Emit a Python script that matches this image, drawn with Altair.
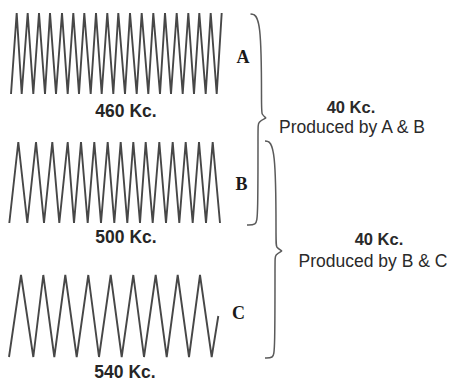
import altair as alt
import pandas as pd

# ---- waveform vertices (pixel-space values) ----
# Wave A (460 Kc.)
a_crest_x = [16.7, 27.7, 39, 50, 62, 73.3, 84.3, 96, 107.3, 118.3, 130, 141.7,
             153.3, 165, 176.7, 188.3, 199.3, 210.7, 221.7]
a_trough_x = [11, 21.7, 33.3, 45, 56, 67.7, 79, 90.7, 101.7, 113.3, 125, 136.7,
              148.3, 160, 171, 182.7, 194, 205.7, 216.7]
a_top, a_bottom = 13, 94

# Wave B (500 Kc.)
b_crest_x = [18.3, 36, 52.3, 67.7, 81, 94.3, 107.7, 120.7, 133.3, 145.7, 159.3,
             172.7, 185.7, 199, 212.7]
b_trough_x = [9.3, 27.3, 44, 59.3, 74, 87.7, 101, 114.3, 127.3, 140, 152.7, 166,
              179.3, 192.7, 206, 220]
b_top, b_bottom = 142, 223

# Wave C (540 Kc.)
c_crest_x = [21, 43.3, 65.3, 88.3, 110.7, 133.3, 155.7, 177.7, 200]
c_trough_x = [9, 33.3, 54.3, 76.7, 99, 121.7, 144, 166.7, 189, 211.7]
c_top, c_bottom = 275, 357
c_end = (218.3, 316)

# ---- braces (control points) ----
brace1_x = [250.5, 261.5, 261.5, 261.5, 266, 266, 258, 258, 258, 256, 247]
brace1_y = [14, 15, 110, 114, 118, 118, 122, 127, 218, 225, 225]
brace2_x = [265, 276, 276, 276, 282, 282, 275, 275, 275, 273, 265]
brace2_y = [141, 142, 244, 247, 251, 251, 255, 259, 352, 358, 358]

# ---- labels ----
freq_labels = ["460 Kc.", "500 Kc.", "540 Kc."]
freq_x = [126, 126, 125]
freq_y = [112, 238, 373]

letters = ["A", "B", "C"]
letter_x = [243, 241.5, 238.5]
letter_y = [58, 185, 314]

beat_top = ["40 Kc.", "40 Kc."]
beat_top_x = [351, 379]
beat_top_y = [107.5, 240]
beat_sub = ["Produced by A & B", "Produced by B & C"]
beat_sub_x = [352, 373]
beat_sub_y = [127.5, 261.5]


def wave_rows(name, crest, trough, top, bottom, end=None):
    pts = [(x, top) for x in crest] + [(x, bottom) for x in trough]
    if end is not None:
        pts.append(end)
    pts.sort(key=lambda p: p[0])
    return [{"wave": name, "x": x, "y": y, "o": i} for i, (x, y) in enumerate(pts)]


wave_df = pd.DataFrame(
    wave_rows("A", a_crest_x, a_trough_x, a_top, a_bottom)
    + wave_rows("B", b_crest_x, b_trough_x, b_top, b_bottom)
    + wave_rows("C", c_crest_x, c_trough_x, c_top, c_bottom, c_end)
)

brace_df = pd.DataFrame(
    [{"brace": "AB", "x": x, "y": y, "o": i} for i, (x, y) in enumerate(zip(brace1_x, brace1_y))]
    + [{"brace": "BC", "x": x, "y": y, "o": i} for i, (x, y) in enumerate(zip(brace2_x, brace2_y))]
)

freq_df = pd.DataFrame({"t": freq_labels, "x": freq_x, "y": freq_y})
letter_df = pd.DataFrame({"t": letters, "x": letter_x, "y": letter_y})
beat_top_df = pd.DataFrame({"t": beat_top, "x": beat_top_x, "y": beat_top_y})
beat_sub_df = pd.DataFrame({"t": beat_sub, "x": beat_sub_x, "y": beat_sub_y})

xs = alt.Scale(domain=[8, 453], nice=False, zero=False)
ys = alt.Scale(domain=[8, 376], nice=False, zero=False, reverse=True)
X = alt.X("x:Q", scale=xs, axis=None)
Y = alt.Y("y:Q", scale=ys, axis=None)

waves = alt.Chart(wave_df).mark_line(color="#474747", strokeWidth=1.9, strokeJoin="miter").encode(
    x=X, y=Y, detail="wave:N", order="o:Q"
)

braces = alt.Chart(brace_df).mark_line(color="#5a5a5a", strokeWidth=1.5, interpolate="basis").encode(
    x=X, y=Y, detail="brace:N", order="o:Q"
)

freq_text = alt.Chart(freq_df).mark_text(
    font="Liberation Sans", fontSize=17.5, fontWeight="bold", color="#262626",
    align="center", baseline="middle"
).encode(x=X, y=Y, text="t:N")

letter_text = alt.Chart(letter_df).mark_text(
    font="Liberation Serif", fontSize=18, fontWeight="bold", color="#1a1a1a",
    align="center", baseline="middle"
).encode(x=X, y=Y, text="t:N")

beat_top_text = alt.Chart(beat_top_df).mark_text(
    font="Liberation Sans", fontSize=16.5, fontWeight="bold", color="#2a2a2a",
    align="center", baseline="middle"
).encode(x=X, y=Y, text="t:N")

beat_sub_text = alt.Chart(beat_sub_df).mark_text(
    font="Liberation Sans", fontSize=17.5, color="#2a2a2a",
    align="center", baseline="middle"
).encode(x=X, y=Y, text="t:N")

chart = alt.layer(
    waves, braces, freq_text, letter_text, beat_top_text, beat_sub_text
).properties(
    width=445, height=368,
    padding={"left": 0, "top": 0, "right": 0, "bottom": 8},
    autosize="none", background="white"
).configure_view(stroke=None)

chart.save("out.html", embed_options={"renderer": "svg", "actions": False})
